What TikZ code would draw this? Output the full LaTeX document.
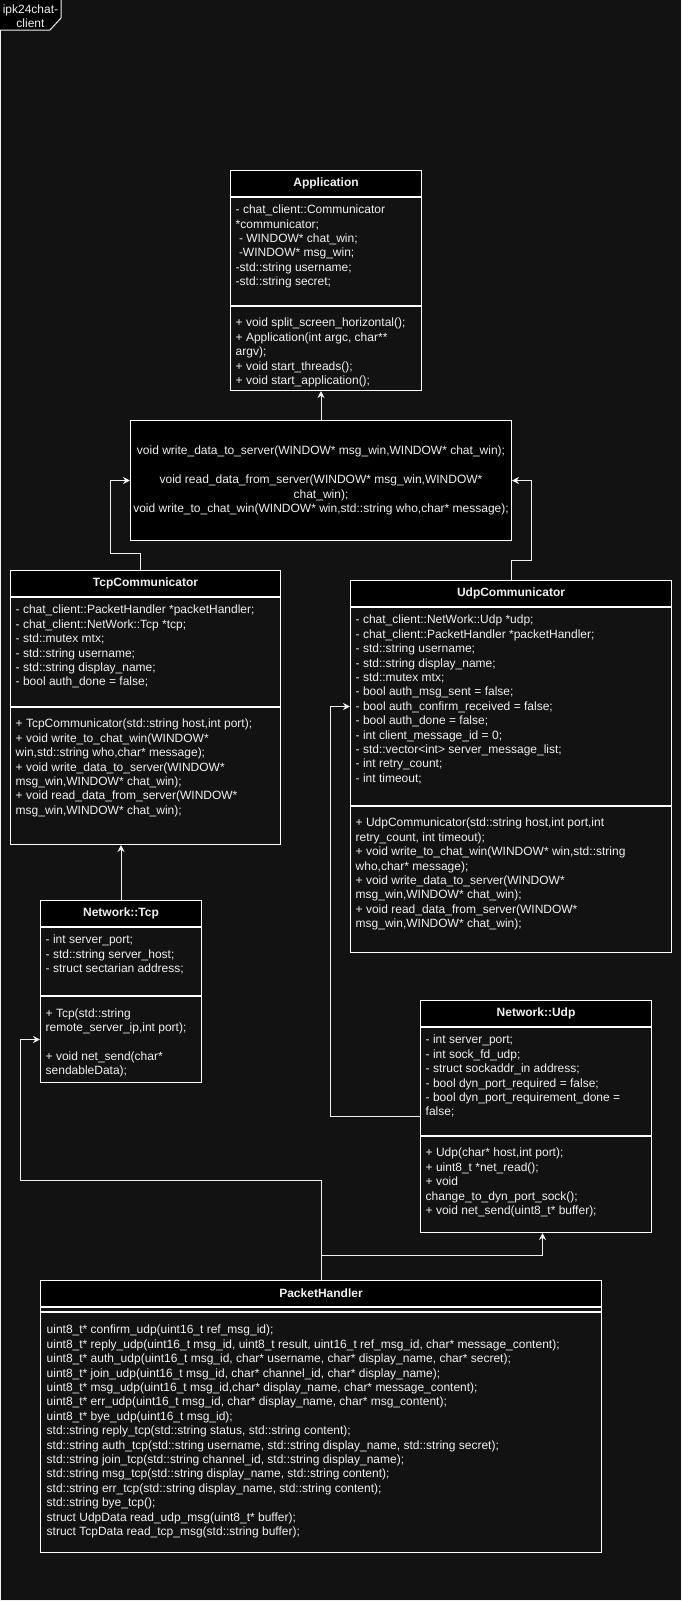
\documentclass[tikz,border=0pt]{standalone}
\usepackage{fontspec}
\setmainfont{Liberation Sans}
\usetikzlibrary{arrows.meta}
\usetikzlibrary{positioning}

\definecolor{canvas}{HTML}{121212}
\definecolor{ink}{HTML}{F0F0F0}

\tikzset{
  classhead/.style={draw=white, fill=black, line width=1pt, anchor=north west, inner sep=0pt,
    minimum height=26pt, text=ink, font=\bfseries\fontsize{12}{14.4}\selectfont},
  classpart/.style={draw=white, fill=canvas, line width=1pt, anchor=north west, inner sep=0pt},
  members/.style={anchor=north west, inner sep=0pt, align=left, text=ink,
    font=\fontsize{12}{14.4}\selectfont, execute at begin node=\strut},
  ifacebox/.style={draw=white, fill=black, line width=1pt, anchor=north west, inner sep=0pt,
    align=center, text=ink, font=\fontsize{12}{14.4}\selectfont},
  link/.style={draw=ink, line width=1pt, -{Stealth[length=7pt,width=7pt]}}
}

\begin{document}
\begin{tikzpicture}[x=1pt, y=-1pt]
        \useasboundingbox (0,0) rectangle (681,1601);
        \fill[canvas] (0,0) rectangle (681,1601);

        % package frame
        \draw[ink, line width=1pt] (682,1600.5) -- (0.5,1600.5) -- (0.5,0);
        \fill[black] (0,0) -- (61,0) -- (61,18) -- (50,30) -- (0,30) -- cycle;
        \draw[ink, line width=1pt] (61,0) -- (61,18) -- (50,30) -- (0,30);
        \node[text=ink, align=center, inner sep=0pt, font=\fontsize{12}{14.4}\selectfont] (framelbl) at (30.5,16) {ipk24chat-\\client};

        % Application
        \node[classhead, minimum width=191pt] (app) at (230,170) {Application};
        \node[classpart, minimum width=191pt, minimum height=108pt] (app-attr) at (app.south west) {};
        \node[classpart, minimum width=191pt, minimum height=84pt] (app-ops) at (app-attr.south west) {};
        \node[members] (app-attr-txt) at ([xshift=5.5pt, yshift=-7.9pt]app-attr.north west)
            {- chat\_client::Communicator\\ *communicator;\\ \hspace*{3.3pt}- WINDOW* chat\_win;\\
             \hspace*{3.3pt}-WINDOW* msg\_win;\\ -std::string username;\\ -std::string secret;};
        \node[members] (app-ops-txt) at ([xshift=5.5pt, yshift=-11.9pt]app-ops.north west)
            {+ void split\_screen\_horizontal();\\ + Application(int argc, char**\\ argv);\\
             + void start\_threads();\\ + void start\_application();};

        % Communicator interface
        \node[ifacebox, minimum width=381pt, minimum height=120pt] (iface) at (130,420)
            {void write\_data\_to\_server(WINDOW* msg\_win,WINDOW* chat\_win);\\[14.4pt]
             void read\_data\_from\_server(WINDOW* msg\_win,WINDOW*\\ chat\_win);\\
             void write\_to\_chat\_win(WINDOW* win,std::string who,char* message);};

        % TcpCommunicator
        \node[classhead, minimum width=270pt] (tcpc) at (10,570) {TcpCommunicator};
        \node[classpart, minimum width=270pt, minimum height=109pt] (tcpc-attr) at (tcpc.south west) {};
        \node[classpart, minimum width=270pt, minimum height=137pt] (tcpc-ops) at (tcpc-attr.south west) {};
        \node[members] (tcpc-attr-txt) at ([xshift=5.5pt, yshift=-7.9pt]tcpc-attr.north west)
            {- chat\_client::PacketHandler *packetHandler;\\ - chat\_client::NetWork::Tcp *tcp;\\
             - std::mutex mtx;\\ - std::string username;\\ - std::string display\_name;\\
             - bool auth\_done = false;};
        \node[members] (tcpc-ops-txt) at ([xshift=5.5pt, yshift=-11.9pt]tcpc-ops.north west)
            {+ TcpCommunicator(std::string host,int port);\\ + void write\_to\_chat\_win(WINDOW*\\
             win,std::string who,char* message);\\ + void write\_data\_to\_server(WINDOW*\\
             msg\_win,WINDOW* chat\_win);\\ + void read\_data\_from\_server(WINDOW*\\
             msg\_win,WINDOW* chat\_win);};

        % UdpCommunicator
        \node[classhead, minimum width=321pt] (udpc) at (350,580) {UdpCommunicator};
        \node[classpart, minimum width=321pt, minimum height=198pt] (udpc-attr) at (udpc.south west) {};
        \node[classpart, minimum width=321pt, minimum height=146pt] (udpc-ops) at (udpc-attr.south west) {};
        \node[members] (udpc-attr-txt) at ([xshift=5.5pt, yshift=-7.9pt]udpc-attr.north west)
            {- chat\_client::NetWork::Udp *udp;\\ - chat\_client::PacketHandler *packetHandler;\\
             - std::string username;\\ - std::string display\_name;\\ - std::mutex mtx;\\
             - bool auth\_msg\_sent = false;\\ - bool auth\_confirm\_received = false;\\
             - bool auth\_done = false;\\ - int client\_message\_id = 0;\\
             - std::vector<int> server\_message\_list;\\ - int retry\_count;\\ - int timeout;};
        \node[members] (udpc-ops-txt) at ([xshift=5.5pt, yshift=-11.9pt]udpc-ops.north west)
            {+ UdpCommunicator(std::string host,int port,int\\ retry\_count, int timeout);\\
             + void write\_to\_chat\_win(WINDOW* win,std::string\\ who,char* message);\\
             + void write\_data\_to\_server(WINDOW*\\ msg\_win,WINDOW* chat\_win);\\
             + void read\_data\_from\_server(WINDOW*\\ msg\_win,WINDOW* chat\_win);};

        % Network::Tcp
        \node[classhead, minimum width=161pt] (ntcp) at (40,900) {Network::Tcp};
        \node[classpart, minimum width=161pt, minimum height=68pt] (ntcp-attr) at (ntcp.south west) {};
        \node[classpart, minimum width=161pt, minimum height=86pt] (ntcp-ops) at (ntcp-attr.south west) {};
        \node[members] (ntcp-attr-txt) at ([xshift=5.5pt, yshift=-7.9pt]ntcp-attr.north west)
            {- int server\_port;\\ - std::string server\_host;\\ - struct sectarian address;};
        \node[members] (ntcp-ops-txt) at ([xshift=5.5pt, yshift=-12.4pt]ntcp-ops.north west)
            {+ Tcp(std::string\\ remote\_server\_ip,int port);\\[14.4pt] + void net\_send(char*\\ sendableData);};

        % Network::Udp
        \node[classhead, minimum width=231pt] (nudp) at (420,1000) {Network::Udp};
        \node[classpart, minimum width=231pt, minimum height=108pt] (nudp-attr) at (nudp.south west) {};
        \node[classpart, minimum width=231pt, minimum height=96pt] (nudp-ops) at (nudp-attr.south west) {};
        \node[members] (nudp-attr-txt) at ([xshift=5.5pt, yshift=-7.9pt]nudp-attr.north west)
            {- int server\_port;\\ - int sock\_fd\_udp;\\ - struct sockaddr\_in address;\\
             - bool dyn\_port\_required = false;\\ - bool dyn\_port\_requirement\_done =\\ false;};
        \node[members] (nudp-ops-txt) at ([xshift=5.5pt, yshift=-11.9pt]nudp-ops.north west)
            {+ Udp(char* host,int port);\\ + uint8\_t *net\_read();\\ + void\\
             change\_to\_dyn\_port\_sock();\\ + void net\_send(uint8\_t* buffer);};

        % PacketHandler
        \node[classhead, minimum width=561pt] (pkt) at (40,1280) {PacketHandler};
        \node[classpart, minimum width=561pt, minimum height=4pt] (pkt-attr) at (pkt.south west) {};
        \node[classpart, minimum width=561pt, minimum height=240pt] (pkt-ops) at (pkt-attr.south west) {};
        \node[members] (pkt-ops-txt) at ([xshift=6.5pt, yshift=-12.9pt]pkt-ops.north west)
            {uint8\_t* confirm\_udp(uint16\_t ref\_msg\_id);\\
             uint8\_t* reply\_udp(uint16\_t msg\_id, uint8\_t result, uint16\_t ref\_msg\_id, char* message\_content);\\
             uint8\_t* auth\_udp(uint16\_t msg\_id, char* username, char* display\_name, char* secret);\\
             uint8\_t* join\_udp(uint16\_t msg\_id, char* channel\_id, char* display\_name);\\
             uint8\_t* msg\_udp(uint16\_t msg\_id,char* display\_name, char* message\_content);\\
             uint8\_t* err\_udp(uint16\_t msg\_id, char* display\_name, char* msg\_content);\\
             uint8\_t* bye\_udp(uint16\_t msg\_id);\\
             std::string reply\_tcp(std::string status, std::string content);\\
             std::string auth\_tcp(std::string username, std::string display\_name, std::string secret);\\
             std::string join\_tcp(std::string channel\_id, std::string display\_name);\\
             std::string msg\_tcp(std::string display\_name, std::string content);\\
             std::string err\_tcp(std::string display\_name, std::string content);\\
             std::string bye\_tcp();\\
             struct UdpData read\_udp\_msg(uint8\_t* buffer);\\
             struct TcpData read\_tcp\_msg(std::string buffer);};

        % connectors
        \draw[link] (iface.north) -- (iface.north |- app-ops.south);
        \draw[link] ([xshift=-5pt]tcpc.north) -- ++(0,-17) -| ([xshift=-20pt]iface.west) -- (iface.west);
        \draw[link] (udpc.north) -- ++(0,-20) -| ([xshift=19pt]iface.east) -- (iface.east);
        \draw[link] (ntcp.north) -- (ntcp.north |- tcpc-ops.south);
        \draw[link] ([yshift=-35pt]nudp-attr.west) -- ++(-90,0) |- (udpc-attr.west);
        \draw[link] (pkt.north) -- ++(0,-100) -| ([xshift=-20pt]ntcp-ops.west) -- (ntcp-ops.west);
        \draw[link] (pkt.north) -- ++(0,-25) -| ([xshift=6.5pt]nudp-ops.south);
\end{tikzpicture}
\end{document}
